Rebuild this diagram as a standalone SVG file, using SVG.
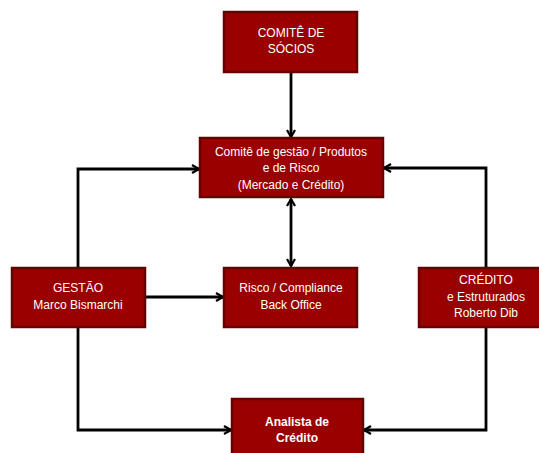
<svg xmlns="http://www.w3.org/2000/svg" width="539" height="453" viewBox="0 0 539 453">
<style>
.box{fill:#990000;stroke:#680000;stroke-width:2.5}
.t{fill:#ffffff;font-family:"Liberation Sans",Arial,sans-serif;font-size:12px;text-anchor:middle}
.b{font-weight:bold}
.c{fill:none;stroke:#000;stroke-width:2.8}
</style>
<defs>
<marker id="ah" viewBox="0 0 10 10" refX="9" refY="5" markerWidth="10" markerHeight="10" markerUnits="userSpaceOnUse" orient="auto-start-reverse">
<polyline points="2,1 9,5 2,9" fill="none" stroke="#000" stroke-width="2.2"/>
</marker>
</defs>
<rect width="539" height="453" fill="#fff"/>
<g id="connectors">
<line class="c" x1="291" y1="72" x2="291" y2="137" marker-end="url(#ah)"/>
<line class="c" x1="291" y1="199" x2="291" y2="266" marker-start="url(#ah)" marker-end="url(#ah)"/>
<polyline class="c" points="78,268 78,169 199,169" marker-end="url(#ah)"/>
<polyline class="c" points="78,327 78,430 231,430" marker-end="url(#ah)"/>
<line class="c" x1="145" y1="297" x2="223" y2="297" marker-end="url(#ah)"/>
<polyline class="c" points="486,268 486,168 384,168" marker-end="url(#ah)"/>
<polyline class="c" points="486,327 486,430 364,430" marker-end="url(#ah)"/>
</g>
<g id="socios">
<rect class="box" x="224" y="12" width="133" height="60"/>
<text class="t" x="291" y="37">COMITÊ DE</text>
<text class="t" x="291" y="53">SÓCIOS</text>
</g>
<g id="comite">
<rect class="box" x="200" y="138" width="183" height="59"/>
<text class="t" x="291" y="156">Comitê de gestão / Produtos</text>
<text class="t" x="291" y="172">e de Risco</text>
<text class="t" x="291" y="189">(Mercado e Crédito)</text>
</g>
<g id="gestao">
<rect class="box" x="12" y="268" width="133" height="59"/>
<text class="t" x="78" y="292">GESTÃO</text>
<text class="t" x="78" y="309">Marco Bismarchi</text>
</g>
<g id="risco">
<rect class="box" x="224" y="268" width="133" height="59"/>
<text class="t" x="291" y="292">Risco / Compliance</text>
<text class="t" x="291" y="309">Back Office</text>
</g>
<g id="credito">
<rect class="box" x="419" y="268" width="133" height="59"/>
<text class="t" x="486" y="284">CRÉDITO</text>
<text class="t" x="486" y="301">e Estruturados</text>
<text class="t" x="486" y="317">Roberto Dib</text>
</g>
<g id="analista">
<rect class="box" x="232" y="399" width="131" height="59"/>
<text class="t b" x="297" y="426">Analista de</text>
<text class="t b" x="297" y="442">Crédito</text>
</g>
</svg>
